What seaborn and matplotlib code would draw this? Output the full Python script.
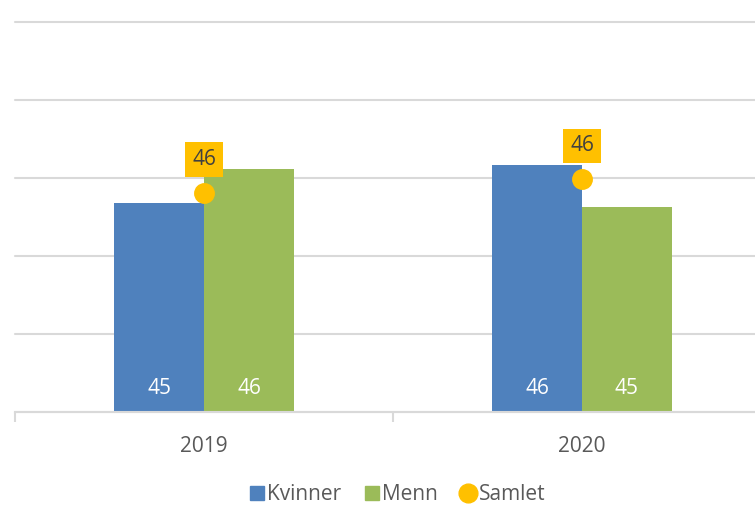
import pandas as pd
import numpy as np
import matplotlib.pyplot as plt
import seaborn as sns
from matplotlib.lines import Line2D

# ------------------------------
# Data
# ------------------------------
years = ["2019", "2020"]
kvinner = [45.35, 46.33]
menn = [46.22, 45.26]
samlet = [45.62, 45.97]

blue = "#4F81BD"
green = "#9BBB59"
orange = "#FFC000"
grid = "#D9D9D9"
text_col = "#595959"

df = pd.DataFrame({
    "year": years * 2,
    "value": kvinner + menn,
    "group": ["Kvinner"] * len(years) + ["Menn"] * len(years),
})

# ------------------------------
# Figure
# ------------------------------
sns.set_style("white")
plt.rcParams["font.family"] = ["Open Sans", "DejaVu Sans"]

fig = plt.figure(figsize=(7.55, 5.07), dpi=100)
ax = fig.add_axes([15 / 755, 95 / 507, 740 / 755, 390 / 507])

sns.barplot(data=df, x="year", y="value", hue="group",
            palette=[blue, green], width=0.476, saturation=1,
            errorbar=None, legend=False, linewidth=0, ax=ax)

sns.pointplot(x=years, y=samlet, color=orange, linestyle="none",
              marker="o", markersize=13, errorbar=None, ax=ax)

ax.set_yticks(np.arange(40, 51, 2))
ax.set_xticks([-0.5, 0.5, 1.5], minor=True)
ax.set_ylim(40, 50)
ax.set_xlim(-0.5, 740 / 378 - 0.5)
ax.yaxis.grid(True, color=grid, linewidth=1.5)
for gl in ax.get_ygridlines():
    gl.set_clip_on(False)
ax.set_axisbelow(True)
ax.tick_params(axis="y", left=False, labelleft=False)
ax.set_xlabel("")
ax.set_ylabel("")

for s in ["top", "right", "left"]:
    ax.spines[s].set_visible(False)
ax.spines["bottom"].set_color(grid)
ax.spines["bottom"].set_linewidth(1.5)

ax.tick_params(axis="x", which="minor", bottom=True, length=7, width=1.5,
               color=grid)
ax.tick_params(axis="x", which="major", bottom=False, length=0, pad=17,
               labelsize=15, labelcolor=text_col)

# bar labels inside the bottom of each bar
for cont in ax.containers:
    for bar in cont:
        ax.annotate(f"{bar.get_height():.0f}",
                    (bar.get_x() + bar.get_width() / 2, 40),
                    xytext=(0, 17), textcoords="offset points",
                    ha="center", va="center", color="white", fontsize=15)

# Samlet labels in orange boxes
for i, v in enumerate(samlet):
    ax.annotate(f"{v:.0f}", (i, v), xytext=(0, 24), textcoords="offset points",
                ha="center", va="center", color="#404040", fontsize=15,
                bbox=dict(boxstyle="square,pad=0.32", fc=orange, ec="none"))

handles = [
    Line2D([], [], marker="s", linestyle="none", color=blue, markersize=10),
    Line2D([], [], marker="s", linestyle="none", color=green, markersize=10),
    Line2D([], [], marker="o", linestyle="none", color=orange, markersize=13.5),
]
fig.legend(handles, ["Kvinner", "Menn", "Samlet"], loc="center",
           bbox_to_anchor=(0.525, 0.024), ncol=3, frameon=False,
           fontsize=15, labelcolor=text_col, handletextpad=0.05,
           columnspacing=1.0, handlelength=0.9)

fig.savefig("out.png", dpi=100)
